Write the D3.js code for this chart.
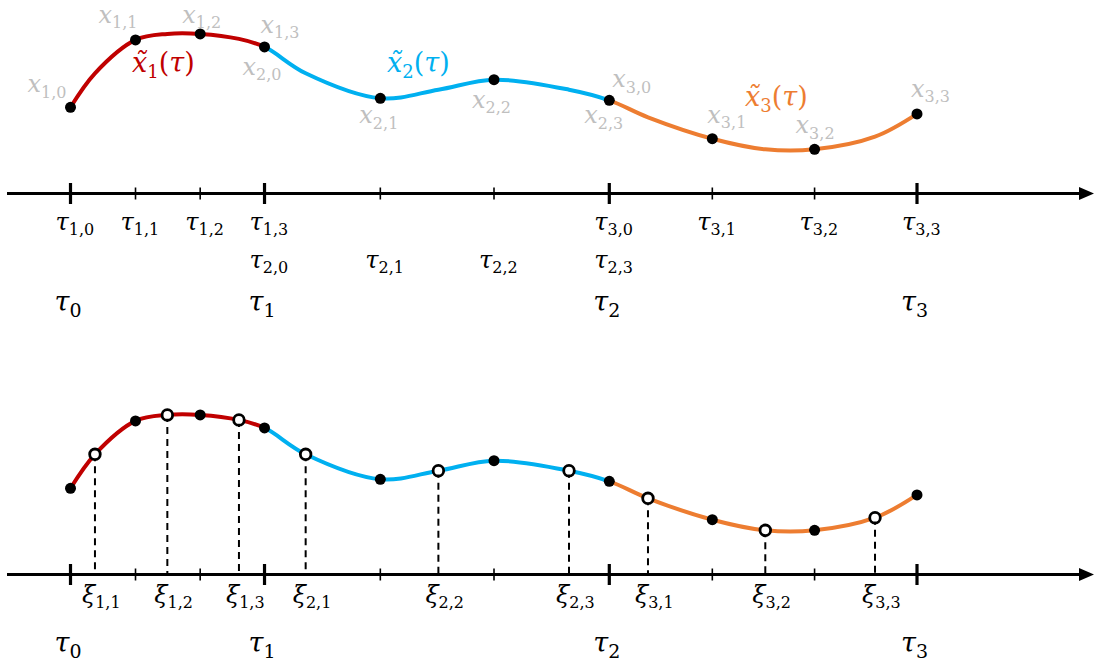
<!DOCTYPE html>
<html>
<head>
<meta charset="utf-8">
<script src="https://cdn.jsdelivr.net/npm/d3@7"></script>
<style>
  html, body { margin: 0; padding: 0; background: #fff; }
  svg { display: block; }
</style>
</head>
<body>
<svg id="chart" width="1094" height="667"></svg>
<script>
// ---- data -------------------------------------------------------------
// Mesh nodes tau_{k,j} (k = interval, j = 0..3) and state values x_{k,j}
const nodeTau = [0, 0.768, 1.532, 2.292, 3.66, 5.003, 6.365, 7.582, 8.79, 10];
const nodeX   = [4.31, 7.68, 7.98, 7.33, 4.76, 5.69, 4.66, 2.74, 2.21, 3.98];
const nodeIds = ["1,0", "1,1", "1,2", "1,3", "2,1", "2,2", "2,3", "3,1", "3,2", "3,3"];

// Collocation points xi_{k,j} and the state value on the curve there
const colTau = [0.289, 1.144, 1.99, 2.778, 4.346, 5.889, 6.822, 8.208, 9.504];
const colX   = [6.01, 7.98, 7.73, 6.01, 5.19, 5.19, 3.81, 2.21, 2.84];
const colIds = ["1,1", "1,2", "1,3", "2,1", "2,2", "2,3", "3,1", "3,2", "3,3"];

// Interval boundaries tau_0..tau_3 and the polynomial pieces on them
const meshTau   = [0, 2.292, 6.365, 10];
const meshIds   = ["0", "1", "2", "3"];
const pieceIds  = ["1", "2", "3"];
const pieceColors = ["#C00000", "#00B0F0", "#ED7D31"];

// Tick labels under the upper axis: [tau, subscript, row]
const tauTickLabels = [
  [0, "1,0", 0], [0.768, "1,1", 0], [1.532, "1,2", 0], [2.292, "1,3", 0],
  [2.292, "2,0", 1], [3.66, "2,1", 1], [5.003, "2,2", 1],
  [6.365, "3,0", 0], [6.365, "2,3", 1],
  [7.582, "3,1", 0], [8.79, "3,2", 0], [10, "3,3", 0]
];

// ---- layout -----------------------------------------------------------
const W = 1094, H = 667;
const axisUpper = 193.5, axisLower = 574.5;
const labelGray = "#BFBFBF";
const serif = "'DejaVu Serif', 'Liberation Serif', serif";

const x = d3.scaleLinear().domain([0, 10]).range([70.5, 917]);
const yUpper = d3.scaleLinear().domain([0, 10]).range([axisUpper, axisUpper - 200]);
const yLower = d3.scaleLinear().domain([0, 10]).range([axisLower, axisLower - 200]);

// label offsets (px) of the node names in the upper panel
const nodeLabelOffsets = {
  "1,0": [-43, -15], "1,1": [-37, -17], "1,2": [-18, -11], "1,3": [-4, -14],
  "2,0": [-22, 28],  "2,1": [-21, 25],  "2,2": [-22, 28],  "2,3": [-25, 23],
  "3,0": [3, -13],   "3,1": [-5, -16],  "3,2": [-19, -16], "3,3": [-6, -17]
};
// where the piece names x~_k(tau) sit, in data units [tau, x]
const pieceLabelAt = [[0.727, 6.08], [3.739, 6.08], [7.968, 4.38]];

const svg = d3.select("#chart");

// Writes "base" in italic followed by an upright subscript, plus an optional tail
function mathLabel(g, px, py, base, sub, size, subSize, fill, tail) {
  const t = g.append("text")
    .attr("x", px).attr("y", py)
    .attr("font-family", serif)
    .attr("fill", fill);
  t.append("tspan").attr("font-style", "italic").attr("font-size", size).text(base);
  t.append("tspan").attr("font-size", subSize).attr("dy", size * 0.22).text(sub);
  if (tail) {
    t.append("tspan").attr("font-size", size).attr("dy", -size * 0.22).text("(");
    t.append("tspan").attr("font-size", size).attr("font-style", "italic").text(tail);
    t.append("tspan").attr("font-size", size).text(")");
  }
  return t;
}

// ---- shared curve -------------------------------------------------------
const curvePts = nodeTau.map((t, i) => ({ t, v: nodeX[i] }))
  .concat(colTau.map((t, i) => ({ t, v: colX[i] })))
  .sort((a, b) => a.t - b.t);

const defs = svg.append("defs");
pieceIds.forEach((id, i) => {
  defs.append("clipPath").attr("id", "piece" + id)
    .append("rect")
    .attr("x", x(meshTau[i]) - (i === 0 ? 10 : 0))
    .attr("width", x(meshTau[i + 1]) - x(meshTau[i]) + (i === 0 || i === 2 ? 10 : 0))
    .attr("y", 0).attr("height", H);
});

function drawAxis(g, axisY, tickLen) {
  g.append("line")
    .attr("x1", 7).attr("x2", 1082).attr("y1", axisY).attr("y2", axisY)
    .attr("stroke", "#000").attr("stroke-width", 3);
  g.append("path")
    .attr("d", `M1094,${axisY} L1079,${axisY - 6.5} L1079,${axisY + 6.5} Z`)
    .attr("fill", "#000");
  // minor ticks at interior grid points
  const minor = nodeTau.filter(t => !meshTau.includes(t));
  g.selectAll("line.minor").data(minor).join("line")
    .attr("class", "minor")
    .attr("x1", d => x(d)).attr("x2", d => x(d))
    .attr("y1", axisY - 6).attr("y2", axisY + 6)
    .attr("stroke", "#000").attr("stroke-width", 1.6);
  g.selectAll("line.major").data(meshTau).join("line")
    .attr("class", "major")
    .attr("x1", d => x(d)).attr("x2", d => x(d))
    .attr("y1", axisY - tickLen).attr("y2", axisY + tickLen)
    .attr("stroke", "#000").attr("stroke-width", 3.2);
}

function drawCurve(g, y) {
  const line = d3.line().x(d => x(d.t)).y(d => y(d.v))
    .curve(d3.curveCatmullRom.alpha(0.5));
  pieceIds.forEach((id, i) => {
    g.append("path")
      .attr("d", line(curvePts))
      .attr("clip-path", `url(#piece${id})`)
      .attr("fill", "none")
      .attr("stroke", pieceColors[i])
      .attr("stroke-width", 4);
  });
}

// ---- upper panel: nodes on the mesh ------------------------------------
const upper = svg.append("g");
drawAxis(upper, axisUpper, 10.5);
drawCurve(upper, yUpper);

// node names (gray); shared boundary nodes carry both names
const nodeLabelList = nodeIds.map((id, i) => ({ id, t: nodeTau[i], v: nodeX[i] }));
nodeLabelList.push({ id: "2,0", t: nodeTau[3], v: nodeX[3] });
nodeLabelList.push({ id: "3,0", t: nodeTau[6], v: nodeX[6] });
nodeLabelList.forEach(d => {
  const [dx, dy] = nodeLabelOffsets[d.id];
  mathLabel(upper, x(d.t) + dx, yUpper(d.v) + dy, "x", d.id, 24, 16, labelGray);
});

upper.selectAll("circle.node").data(nodeTau).join("circle")
  .attr("class", "node")
  .attr("cx", d => x(d)).attr("cy", (d, i) => yUpper(nodeX[i]))
  .attr("r", 5.5).attr("fill", "#000");

pieceIds.forEach((id, i) => {
  const [t, v] = pieceLabelAt[i];
  mathLabel(upper, x(t), yUpper(v), "x\u0303", id, 27, 18, pieceColors[i], "\u03C4");
});

const rowY = [230, 268];
tauTickLabels.forEach(([t, sub, row]) => {
  mathLabel(upper, x(t) - 15, rowY[row], "\u03C4", sub, 24, 16, "#000");
});
meshTau.forEach((t, i) => {
  mathLabel(upper, x(t) - 16, 311, "\u03C4", meshIds[i], 27, 19, "#000");
});

// ---- lower panel: collocation points -----------------------------------
const lower = svg.append("g");
lower.selectAll("line.drop").data(colTau).join("line")
  .attr("class", "drop")
  .attr("x1", d => x(d)).attr("x2", d => x(d))
  .attr("y1", (d, i) => yLower(colX[i])).attr("y2", axisLower)
  .attr("stroke", "#000").attr("stroke-width", 2)
  .attr("stroke-dasharray", "7,5");
drawAxis(lower, axisLower, 10.5);
drawCurve(lower, yLower);

lower.selectAll("circle.node").data(nodeTau).join("circle")
  .attr("class", "node")
  .attr("cx", d => x(d)).attr("cy", (d, i) => yLower(nodeX[i]))
  .attr("r", 5.5).attr("fill", "#000");

lower.selectAll("circle.col").data(colTau).join("circle")
  .attr("class", "col")
  .attr("cx", d => x(d)).attr("cy", (d, i) => yLower(colX[i]))
  .attr("r", 5.3).attr("fill", "#fff")
  .attr("stroke", "#000").attr("stroke-width", 2.8);

colTau.forEach((t, i) => {
  mathLabel(lower, x(t) - 13, 603, "\u03BE", colIds[i], 24, 16, "#000");
});
meshTau.forEach((t, i) => {
  mathLabel(lower, x(t) - 16, 652, "\u03C4", meshIds[i], 27, 19, "#000");
});
</script>
</body>
</html>
